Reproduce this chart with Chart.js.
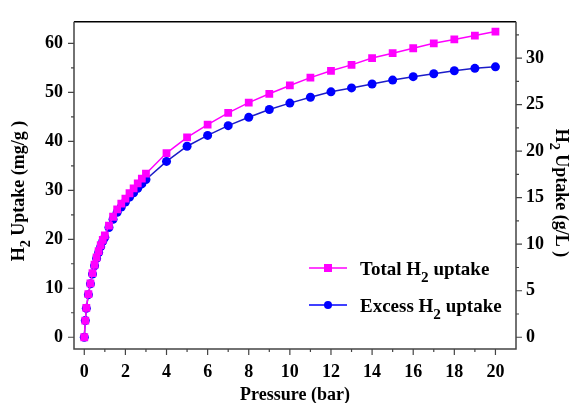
<!DOCTYPE html>
<html>
<head>
<meta charset="utf-8">
<script src="https://cdn.jsdelivr.net/npm/chart.js@4/dist/chart.umd.min.js"></script>
<style>
  html, body { margin: 0; padding: 0; background: #fff; }
  #wrap { width: 576px; height: 403px; }
</style>
</head>
<body>
<div id="wrap"><canvas id="uptakeChart" width="576" height="403"></canvas></div>
<script>
// pressure (bar)
const pressure = [0, 0.05, 0.1, 0.2, 0.3, 0.4, 0.5, 0.6, 0.7, 0.8, 0.9, 1.0,
  1.2, 1.4, 1.6, 1.8, 2.0, 2.2, 2.4, 2.6, 2.8, 3.0,
  4, 5, 6, 7, 8, 9, 10, 11, 12, 13, 14, 15, 16, 17, 18, 19, 20];
// H2 uptake (mg/g)
const totalUptake = [0, 3.4, 6.0, 8.8, 11.0, 13.1, 14.8, 16.3, 17.6, 18.8, 19.9, 20.8,
  22.8, 24.6, 26.1, 27.3, 28.3, 29.4, 30.4, 31.4, 32.4, 33.4,
  37.6, 40.8, 43.4, 45.8, 47.9, 49.7, 51.4, 53.0, 54.4, 55.6, 57.0, 58.0, 59.0, 60.0, 60.8, 61.6, 62.4];
const excessUptake = [0, 3.4, 5.9, 8.7, 10.9, 12.9, 14.6, 16.1, 17.3, 18.5, 19.6, 20.4,
  22.4, 24.1, 25.5, 26.6, 27.6, 28.6, 29.5, 30.4, 31.3, 32.2,
  35.9, 39.0, 41.2, 43.2, 44.9, 46.5, 47.8, 49.0, 50.1, 50.9, 51.7, 52.5, 53.2, 53.8, 54.4, 54.9, 55.2];

// tick labels
const xTicks = [0, 2, 4, 6, 8, 10, 12, 14, 16, 18, 20];
const yLeftTicks = [0, 10, 20, 30, 40, 50, 60];
const yRightTicks = [0, 5, 10, 15, 20, 25, 30];

const serif = "'Liberation Serif', 'Times New Roman', serif";
const magenta = '#ff00ff';
const blue = '#0000ff';

function toXY(ys) {
  return ys.map((y, i) => ({ x: pressure[i], y: y }));
}

// draw text with a subscript part, parts = [[text, isSub], ...]
function subText(ctx, parts, x, y, size, align) {
  let w = 0;
  parts.forEach(p => {
    ctx.font = 'bold ' + (p[1] ? size * 0.8 : size) + 'px ' + serif;
    w += ctx.measureText(p[0]).width;
  });
  let cx = align === 'center' ? x - w / 2 : x;
  ctx.textAlign = 'left';
  ctx.textBaseline = 'alphabetic';
  parts.forEach(p => {
    const s = p[1] ? size * 0.8 : size;
    ctx.font = 'bold ' + s + 'px ' + serif;
    ctx.fillText(p[0], cx, p[1] ? y + size * 0.35 : y);
    cx += ctx.measureText(p[0]).width;
  });
}

const decor = {
  id: 'decor',
  afterDraw(chart) {
    const ctx = chart.ctx;
    const a = chart.chartArea;
    const sx = chart.scales.x, sy = chart.scales.y, sy2 = chart.scales.y2;
    ctx.save();
    ctx.fillStyle = '#000';

    // frame
    ctx.lineWidth = 1.5;
    ctx.strokeStyle = '#000';
    ctx.beginPath();
    ctx.moveTo(a.left, a.top); ctx.lineTo(a.right, a.top);
    ctx.stroke();
    ctx.strokeStyle = '#444';
    ctx.beginPath();
    ctx.moveTo(a.left, a.top); ctx.lineTo(a.left, a.bottom); ctx.lineTo(a.right, a.bottom); ctx.lineTo(a.right, a.top);
    ctx.stroke();

    // tick marks
    ctx.lineWidth = 1.2;
    ctx.beginPath();
    for (let v = 0; v <= 20; v++) {
      const px = sx.getPixelForValue(v);
      ctx.moveTo(px, a.bottom); ctx.lineTo(px, a.bottom + (v % 2 === 0 ? 6 : 3));
    }
    for (let v = 0; v <= 60; v += 5) {
      const py = sy.getPixelForValue(v);
      ctx.moveTo(a.left, py); ctx.lineTo(a.left - (v % 10 === 0 ? 6 : 3), py);
    }
    for (let v = 0; v <= 32.5; v += 2.5) {
      const py = sy2.getPixelForValue(v);
      ctx.moveTo(a.right, py); ctx.lineTo(a.right + (v % 5 === 0 ? 6 : 3), py);
    }
    ctx.stroke();

    // axis titles
    subText(ctx, [['Pressure (bar)', false]], (a.left + a.right) / 2, 400, 18, 'center');
    ctx.save();
    ctx.translate(24, 191);
    ctx.rotate(-Math.PI / 2);
    subText(ctx, [['H', false], ['2', true], [' Uptake (mg/g )', false]], 0, 0, 18, 'center');
    ctx.restore();
    ctx.save();
    ctx.translate(556, 193);
    ctx.rotate(Math.PI / 2);
    subText(ctx, [['H', false], ['2', true], [' Uptake (g/L )', false]], 0, 0, 18, 'center');
    ctx.restore();

    // legend
    const items = [
      { color: magenta, shape: 'rect', y: 268, parts: [['Total H', false], ['2', true], [' uptake', false]] },
      { color: blue, shape: 'circle', y: 305, parts: [['Excess H', false], ['2', true], [' uptake', false]] }
    ];
    items.forEach(it => {
      ctx.strokeStyle = it.color;
      ctx.lineWidth = 1.5;
      ctx.beginPath();
      ctx.moveTo(309, it.y); ctx.lineTo(347, it.y);
      ctx.stroke();
      ctx.fillStyle = it.color;
      if (it.shape === 'rect') {
        ctx.fillRect(324, it.y - 4, 8, 8);
      } else {
        ctx.beginPath(); ctx.arc(328, it.y, 4, 0, Math.PI * 2); ctx.fill();
      }
      ctx.fillStyle = '#000';
      subText(ctx, it.parts, 360, it.y + 7, 19, 'left');
    });
    ctx.restore();
  }
};

const tickFont = { family: serif, size: 18, weight: 'bold' };

const ctx = document.getElementById('uptakeChart').getContext('2d');
new Chart(ctx, {
  type: 'line',
  data: {
    datasets: [
      {
        label: 'Total H2 uptake',
        data: toXY(totalUptake),
        borderColor: magenta,
        backgroundColor: magenta,
        borderWidth: 1.5,
        pointStyle: 'rect',
        pointRadius: 5.5,
        pointBorderWidth: 0,
        yAxisID: 'y',
        tension: 0
      },
      {
        label: 'Excess H2 uptake',
        data: toXY(excessUptake),
        borderColor: '#1c1cc8',
        backgroundColor: blue,
        borderWidth: 1.5,
        pointStyle: 'circle',
        pointRadius: 4.5,
        pointBorderWidth: 0,
        yAxisID: 'y',
        tension: 0
      }
    ]
  },
  options: {
    responsive: false,
    animation: false,
    layout: { padding: { top: 15, left: 0, right: 0, bottom: 0 } },
    plugins: {
      legend: { display: false },
      tooltip: { enabled: false }
    },
    scales: {
      x: {
        type: 'linear',
        min: -0.5,
        max: 21,
        afterBuildTicks: s => { s.ticks = xTicks.map(v => ({ value: v })); },
        afterFit: s => { s.height = 54; },
        grid: { display: false, drawTicks: false },
        border: { display: false },
        ticks: { font: tickFont, color: '#000', padding: 13, maxRotation: 0, autoSkip: false }
      },
      y: {
        position: 'left',
        min: -2.4,
        max: 64.4,
        afterBuildTicks: s => { s.ticks = yLeftTicks.map(v => ({ value: v })); },
        afterFit: s => { s.width = 74; },
        grid: { display: false, drawTicks: false },
        border: { display: false },
        ticks: { font: tickFont, color: '#000', padding: 11, autoSkip: false }
      },
      y2: {
        position: 'right',
        min: -1.26,
        max: 33.9,
        afterBuildTicks: s => { s.ticks = yRightTicks.map(v => ({ value: v })); },
        afterFit: s => { s.width = 60; },
        grid: { display: false, drawTicks: false },
        border: { display: false },
        ticks: { font: tickFont, color: '#000', padding: 10, autoSkip: false }
      }
    }
  },
  plugins: [decor]
});
</script>
</body>
</html>
